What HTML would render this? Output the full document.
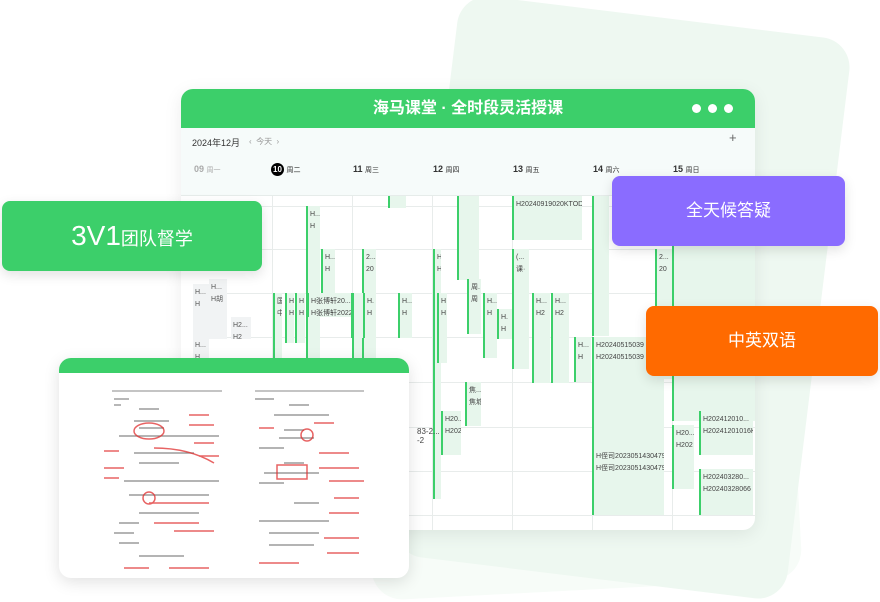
<!DOCTYPE html>
<html><head><meta charset="utf-8"><style>
*{margin:0;padding:0;box-sizing:border-box}
body{width:880px;height:600px;background:#fff;position:relative;overflow:hidden;font-family:"Liberation Sans","Noto Sans CJK SC",sans-serif}
.abs{position:absolute}
.bg1{left:425px;top:15px;width:395px;height:565px;background:#eef8f1;border-radius:30px;transform:rotate(7deg);}
.bg2{left:360px;top:90px;width:430px;height:500px;background:#f7fcf8;border-radius:30px;transform:rotate(-3deg);}
.win{left:181px;top:89px;width:574px;height:441px;background:#fff;border-radius:12px;overflow:hidden;box-shadow:0 4px 18px rgba(0,0,0,.08)}
.hdr{left:0;top:0;width:574px;height:39px;background:#3ccf6a;color:#fff;font-size:16px;font-weight:bold;text-align:center;line-height:39px}
.dot{width:9px;height:9px;border-radius:50%;background:#fff;top:15px}
.tool{left:0;top:39px;width:574px;height:68px;background:#f6fbfa;border-bottom:1px solid #e6ecea}
.t{font-size:9px;color:#333}
.vl{width:1px;background:#e8eceb;top:107px;height:334px}
.hl{height:1px;background:#e8eceb;left:12px;width:562px}
.ev{background:#e7f6ec;border-left:2px solid #3ccf6a;font-size:7px;color:#444;padding:3px 2px;line-height:12px;overflow:hidden;white-space:nowrap}
.gr{background:#f1f3f4;font-size:7px;color:#555;padding:3px 2px;line-height:12px;overflow:hidden}
.badge{color:#fff;border-radius:8px;text-align:center;box-shadow:0 4px 12px rgba(0,0,0,.12)}
</style></head><body>
<div class="abs bg2"></div>
<div class="abs bg1"></div>
<div class="abs win">
 <div class="abs hdr">海马课堂 · 全时段灵活授课</div>
 <div class="abs dot" style="left:511px"></div><div class="abs dot" style="left:527px"></div><div class="abs dot" style="left:543px"></div>
 <div class="abs tool">
  <div class="abs t" style="left:11px;top:8px">2024年12月</div>
  <div class="abs t" style="left:68px;top:8px;color:#999;font-size:8px">‹ &nbsp;今天 &nbsp;›</div>
  <div class="abs" style="left:548px;top:2px;font-size:13px;color:#666">+</div>
  <div class="abs t" style="left:13px;top:36px;color:#aaa;font-weight:bold">09 <span style="font-weight:normal;font-size:7px">周一</span></div>
  <div class="abs t" style="left:90px;top:35px;font-weight:bold"><span style="display:inline-block;width:13px;height:13px;border-radius:50%;background:#000;color:#fff;text-align:center;line-height:13px;font-size:8px">10</span> <span style="font-weight:normal;font-size:7px">周二</span></div>
  <div class="abs t" style="left:172px;top:36px;font-weight:bold">11 <span style="font-weight:normal;font-size:7px">周三</span></div>
  <div class="abs t" style="left:252px;top:36px;font-weight:bold">12 <span style="font-weight:normal;font-size:7px">周四</span></div>
  <div class="abs t" style="left:332px;top:36px;font-weight:bold">13 <span style="font-weight:normal;font-size:7px">周五</span></div>
  <div class="abs t" style="left:412px;top:36px;font-weight:bold">14 <span style="font-weight:normal;font-size:7px">周六</span></div>
  <div class="abs t" style="left:492px;top:36px;font-weight:bold">15 <span style="font-weight:normal;font-size:7px">周日</span></div>
 </div>
 <div class="abs vl" style="left:91px"></div><div class="abs vl" style="left:171px"></div><div class="abs vl" style="left:251px"></div><div class="abs vl" style="left:331px"></div><div class="abs vl" style="left:411px"></div><div class="abs vl" style="left:491px"></div>
 <div class="abs hl" style="top:117px"></div><div class="abs hl" style="top:160px"></div><div class="abs hl" style="top:204px"></div><div class="abs hl" style="top:248px"></div><div class="abs hl" style="top:293px"></div><div class="abs hl" style="top:338px"></div><div class="abs hl" style="top:382px"></div><div class="abs hl" style="top:426px"></div>
 <div class="abs gr" style="left:12px;top:195px;width:16px;height:80px">H...<br>H</div>
 <div class="abs gr" style="left:28px;top:190px;width:18px;height:60px">H...<br>H胡</div>
 <div class="abs gr" style="left:50px;top:228px;width:20px;height:22px">H2...<br>H2</div>
 <div class="abs gr" style="left:12px;top:248px;width:16px;height:30px">H...<br>H</div>
 <div class="abs ev" style="left:125px;top:117px;width:14px;height:200px">H...<br>H</div>
 <div class="abs ev" style="left:140px;top:160px;width:14px;height:44px">H...<br>H</div>
 <div class="abs ev" style="left:207px;top:107px;width:18px;height:12px;padding:0"></div>
 <div class="abs ev" style="left:181px;top:160px;width:14px;height:160px">2...<br>20</div>
 <div class="abs ev" style="left:252px;top:160px;width:8px;height:250px">H<br>H</div>
 <div class="abs ev" style="left:276px;top:107px;width:22px;height:84px;padding:0"></div>
 <div class="abs ev" style="left:331px;top:107px;width:70px;height:44px">H20240919020KTOD_6-10</div>
 <div class="abs ev" style="left:331px;top:160px;width:17px;height:120px">(...<br>课·</div>
 <div class="abs ev" style="left:411px;top:107px;width:17px;height:140px;padding:0"></div>
 <div class="abs ev" style="left:474px;top:160px;width:17px;height:130px">2...<br>20</div>
 <div class="abs ev" style="left:491px;top:107px;width:83px;height:225px;padding:0"></div>
 <div class="abs ev" style="left:92px;top:204px;width:9px;height:120px">国<br>中</div>
 <div class="abs ev" style="left:104px;top:204px;width:9px;height:50px">H<br>H</div>
 <div class="abs ev" style="left:114px;top:204px;width:10px;height:50px">H<br>H</div>
 <div class="abs ev" style="left:126px;top:204px;width:50px;height:24px">H张博轩20...<br>H张博轩2022</div>
 <div class="abs ev" style="left:170px;top:204px;width:12px;height:45px">H<br>H</div>
 <div class="abs ev" style="left:182px;top:204px;width:12px;height:45px">H.<br>H</div>
 <div class="abs ev" style="left:217px;top:204px;width:14px;height:45px">H...<br>H</div>
 <div class="abs ev" style="left:256px;top:204px;width:10px;height:70px">H<br>H</div>
 <div class="abs ev" style="left:286px;top:190px;width:14px;height:55px">周.<br>周</div>
 <div class="abs ev" style="left:302px;top:204px;width:14px;height:65px">H...<br>H</div>
 <div class="abs ev" style="left:316px;top:220px;width:15px;height:30px">H.<br>H</div>
 <div class="abs ev" style="left:351px;top:204px;width:18px;height:90px">H...<br>H2</div>
 <div class="abs ev" style="left:370px;top:204px;width:18px;height:90px">H...<br>H2</div>
 <div class="abs ev" style="left:393px;top:248px;width:17px;height:45px">H...<br>H</div>
 <div class="abs ev" style="left:411px;top:248px;width:72px;height:178px">H20240515039<br>H20240515039</div>
 <div class="abs ev" style="left:411px;top:359px;width:72px;height:30px;font-size:7px">H侄司2023051430479...<br>H侄司20230514304​79KTO</div>
 <div class="abs ev" style="left:284px;top:293px;width:16px;height:44px">焦...<br>焦城</div>
 <div class="abs ev" style="left:260px;top:322px;width:20px;height:44px">H20...<br>H202</div>
 <div class="abs ev" style="left:491px;top:336px;width:22px;height:64px">H20...<br>H202</div>
 <div class="abs ev" style="left:518px;top:322px;width:54px;height:44px">H202412010...<br>H20241201016K</div>
 <div class="abs ev" style="left:518px;top:380px;width:54px;height:46px">H202403280...<br>H20240328066</div>
 <div class="abs ev" style="left:171px;top:204px;width:10px;height:220px;padding:0"></div>
 <div class="abs" style="left:236px;top:338px;font-size:8px;color:#444">83-2...<br>-2</div>
</div>
<div class="abs badge" style="left:2px;top:201px;width:260px;height:70px;background:#3ccf6a;line-height:70px;font-size:28px">3V1<span style="font-size:18px">团队督学</span></div>
<div class="abs badge" style="left:612px;top:176px;width:233px;height:70px;background:#8a6cff;line-height:70px;font-size:17px">全天候答疑</div>
<div class="abs badge" style="left:646px;top:306px;width:232px;height:70px;background:#ff6a00;line-height:70px;font-size:17px">中英双语</div>
<div class="abs" style="left:59px;top:358px;width:350px;height:220px;background:#fff;border-radius:12px;overflow:hidden;box-shadow:0 4px 16px rgba(0,0,0,.12)">
 <div style="height:15px;background:#3ccf6a"></div>
 <svg width="350" height="205" style="position:absolute;left:0;top:15px">
  <g stroke="#888" stroke-width="1">
   <line x1="53" y1="18" x2="163" y2="18"/><line x1="196" y1="18" x2="305" y2="18"/>
  </g>
  <g stroke="#555" stroke-width="1.2" opacity=".7">
   <line x1="55" y1="26" x2="70" y2="26"/><line x1="55" y1="32" x2="62" y2="32"/><line x1="80" y1="36" x2="100" y2="36"/><line x1="75" y1="48" x2="110" y2="48"/><line x1="80" y1="55" x2="105" y2="55"/><line x1="60" y1="63" x2="160" y2="63"/><line x1="75" y1="80" x2="135" y2="80"/><line x1="80" y1="90" x2="120" y2="90"/><line x1="65" y1="108" x2="160" y2="108"/><line x1="70" y1="122" x2="150" y2="122"/><line x1="80" y1="140" x2="140" y2="140"/><line x1="60" y1="150" x2="80" y2="150"/><line x1="80" y1="183" x2="125" y2="183"/><line x1="60" y1="170" x2="80" y2="170"/><line x1="55" y1="160" x2="75" y2="160"/>
   <line x1="196" y1="26" x2="215" y2="26"/><line x1="230" y1="32" x2="250" y2="32"/><line x1="215" y1="42" x2="270" y2="42"/><line x1="225" y1="57" x2="245" y2="57"/><line x1="220" y1="65" x2="255" y2="65"/><line x1="200" y1="75" x2="225" y2="75"/><line x1="225" y1="90" x2="245" y2="90"/><line x1="205" y1="100" x2="260" y2="100"/><line x1="200" y1="110" x2="225" y2="110"/><line x1="235" y1="130" x2="260" y2="130"/><line x1="200" y1="148" x2="270" y2="148"/><line x1="210" y1="160" x2="260" y2="160"/><line x1="210" y1="172" x2="255" y2="172"/>
  </g>
  <g stroke="#e03030" stroke-width="1.5" fill="none" opacity=".75">
   <line x1="130" y1="42" x2="150" y2="42"/><line x1="130" y1="52" x2="155" y2="52"/><line x1="135" y1="70" x2="155" y2="70"/><line x1="140" y1="83" x2="160" y2="83"/>
   <line x1="45" y1="78" x2="60" y2="78"/><line x1="45" y1="95" x2="65" y2="95"/><line x1="45" y1="105" x2="60" y2="105"/><line x1="90" y1="130" x2="150" y2="130"/><line x1="95" y1="150" x2="140" y2="150"/><line x1="115" y1="158" x2="155" y2="158"/><line x1="65" y1="195" x2="90" y2="195"/><line x1="110" y1="195" x2="150" y2="195"/>
   <ellipse cx="90" cy="58" rx="15" ry="8"/><path d="M95 75 Q130 75 155 90"/><circle cx="90" cy="125" r="6"/>
   <line x1="200" y1="55" x2="215" y2="55"/><line x1="255" y1="50" x2="275" y2="50"/><line x1="260" y1="80" x2="290" y2="80"/><line x1="260" y1="95" x2="300" y2="95"/><line x1="270" y1="108" x2="305" y2="108"/><line x1="275" y1="125" x2="300" y2="125"/><line x1="270" y1="140" x2="300" y2="140"/><line x1="265" y1="165" x2="300" y2="165"/><line x1="268" y1="180" x2="300" y2="180"/><line x1="200" y1="190" x2="240" y2="190"/>
   <circle cx="248" cy="62" r="6"/><rect x="218" y="92" width="30" height="14"/>
  </g>
 </svg>
</div>
</body></html>
